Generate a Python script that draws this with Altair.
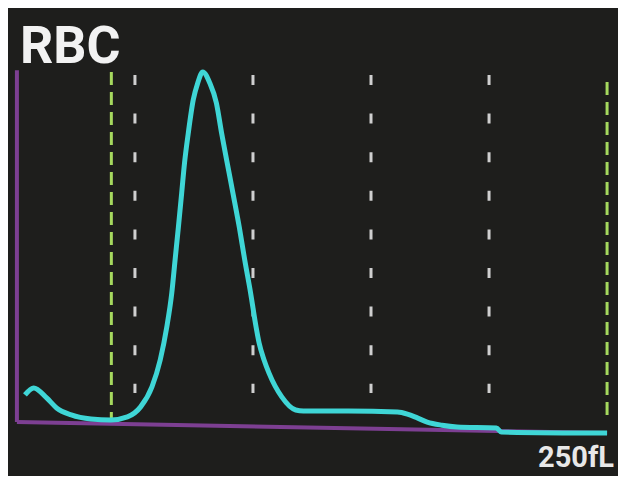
import altair as alt
import pandas as pd

# RBC histogram curve (volume in fL, relative count)
volume_fl = [3.4, 7.1, 12.6, 16.8, 23.0, 31.4, 39.8, 46.8, 52.4, 57.2, 60.7, 63.5,
             65.6, 67.0, 68.4, 69.8, 71.0, 72.6, 74.7, 76.6, 78.7, 81.7, 84.5, 86.7,
             89.0, 91.5, 94.2, 96.5, 99.0, 101.3, 102.6, 104.7, 106.8, 112.2, 118.1,
             121.4, 140.3, 161.2, 165.4, 169.6, 173.8, 180.1, 186.4, 203.1, 205.2, 250.0]
count = [7.3, 9.3, 6.4, 3.5, 1.5, 0.3, 0.0, 0.9, 3.8, 9.6, 17.4, 27.0,
         36.8, 46.4, 55.9, 65.8, 74.5, 83.2, 92.8, 97.7, 100.9, 97.7, 91.9, 83.2,
         74.8, 65.8, 55.9, 46.4, 36.8, 27.0, 22.3, 17.4, 13.6, 6.7, 2.9,
         2.6, 2.6, 2.3, 1.7, 0.6, -0.6, -1.5, -2.0, -2.3, -3.5, -3.8]

grid_fl = [50, 100, 150, 200]          # grey dashed guides
discriminator_fl = [40, 250]           # green dashed discriminators
baseline_fl = [0, 250]
baseline_count = [-0.6, -3.8]
title_text = "RBC"
unit_text = "250fL"

xs = alt.Scale(domain=[-2.93, 252.51], zero=False, nice=False)
ys = alt.Scale(domain=[-16.23, 119.42], zero=False, nice=False)

curve_df = pd.DataFrame({"v": volume_fl, "c": count})
grid_df = pd.DataFrame({"v": grid_fl, "top": [100.0] * 4, "bot": [7.8] * 4})
disc_df = pd.DataFrame({"v": discriminator_fl, "top": [100.9, 98.0], "bot": [0.6, 0.0]})
base_df = pd.DataFrame({"v": baseline_fl, "c": baseline_count})
axis_df = pd.DataFrame({"v": [0], "top": [101.4], "bot": [-0.6]})

baseline = alt.Chart(base_df).mark_line(color="#7d3f92", strokeWidth=4).encode(
    x=alt.X("v:Q", scale=xs, axis=None), y=alt.Y("c:Q", scale=ys, axis=None))

yaxis = alt.Chart(axis_df).mark_rule(color="#7d3f92", strokeWidth=4).encode(
    x=alt.X("v:Q", scale=xs, axis=None),
    y=alt.Y("top:Q", scale=ys, axis=None), y2="bot:Q")

grid = alt.Chart(grid_df).mark_rule(color="#cfcfcf", strokeWidth=3,
                                    strokeDash=[10, 28.6]).encode(
    x=alt.X("v:Q", scale=xs, axis=None),
    y=alt.Y("top:Q", scale=ys, axis=None), y2="bot:Q")

disc = alt.Chart(disc_df).mark_rule(color="#a6d95e", strokeWidth=3,
                                    strokeDash=[13, 7]).encode(
    x=alt.X("v:Q", scale=xs, axis=None),
    y=alt.Y("top:Q", scale=ys, axis=None), y2="bot:Q")

curve = alt.Chart(curve_df).mark_line(color="#3fd6d6", strokeWidth=5,
                                      interpolate="monotone").encode(
    x=alt.X("v:Q", scale=xs, axis=None), y=alt.Y("c:Q", scale=ys, axis=None))

title = alt.Chart(pd.DataFrame({"t": [title_text]})).mark_text(
    font="Roboto", fontSize=52, fontWeight="bold", color="#f2f2f2", align="left",
    baseline="alphabetic").encode(x=alt.value(10), y=alt.value(55), text="t:N")

unit = alt.Chart(pd.DataFrame({"t": [unit_text]})).mark_text(
    font="Roboto", fontSize=29, fontWeight="bold", color="#e8e8e8", align="right",
    baseline="alphabetic").encode(x=alt.value(604), y=alt.value(459), text="t:N")

chart = alt.layer(baseline, yaxis, grid, disc, curve, title, unit).properties(
    width=610, height=468, background="#1e1e1c", padding=0,
    autosize=alt.AutoSizeParams(type="fit", contains="padding"),
).configure_view(stroke=None)

chart.save("out.html", embed_options={"renderer": "svg", "actions": False})
